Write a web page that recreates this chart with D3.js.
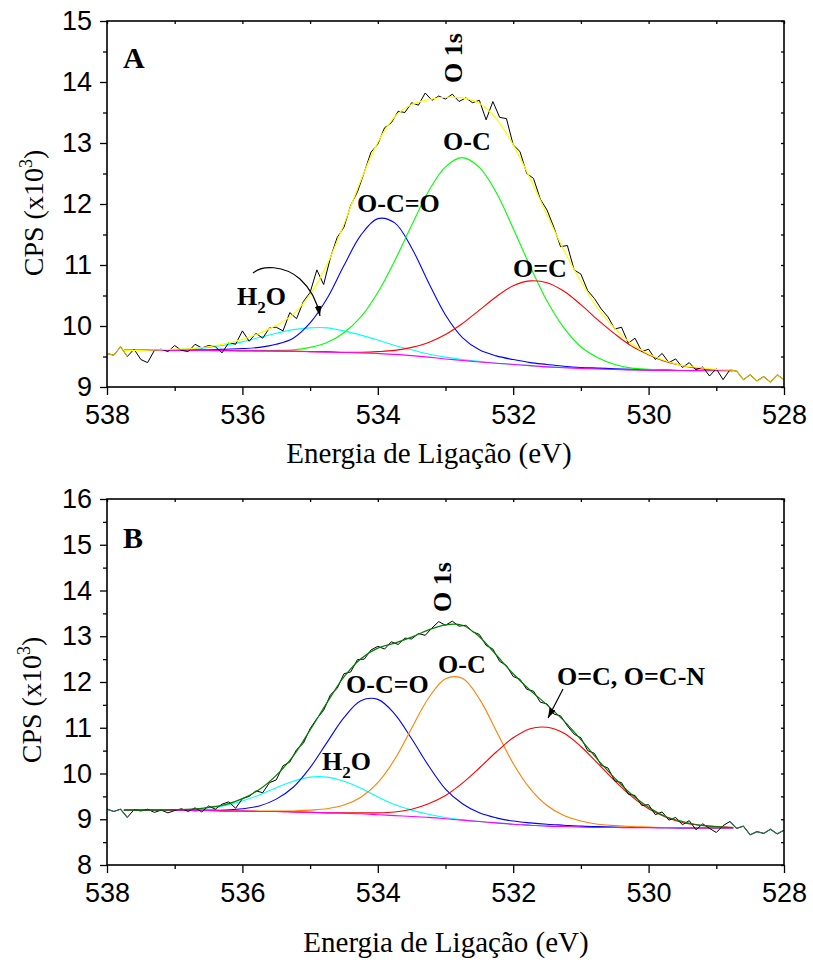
<!DOCTYPE html>
<html lang="pt">
<head>
<meta charset="utf-8">
<script src="https://d3js.org/d3.v7.min.js"></script>
<style>
body { margin: 0; background: #fff; }
</style>
</head>
<body>
<script>
var width = 813, height = 963;

// energy grid of the fitted components (eV)
var fitE = [537.75, 537.5, 537.25, 537, 536.75, 536.5, 536.25, 536, 535.75, 535.5,
  535.25, 535, 534.75, 534.5, 534.25, 534, 533.75, 533.5, 533.25, 533,
  532.75, 532.5, 532.25, 532, 531.75, 531.5, 531.25, 531, 530.75, 530.5,
  530.25, 530, 529.75, 529.5, 529.25, 529, 528.75];

// energy grid of the measured spectrum (eV)
var rawE = [538.0, 537.9, 537.8, 537.7, 537.6, 537.5, 537.4, 537.3, 537.2, 537.1,
  537.0, 536.9, 536.8, 536.7, 536.6, 536.5, 536.4, 536.3, 536.2, 536.1,
  536.0, 535.9, 535.8, 535.7, 535.6, 535.5, 535.4, 535.3, 535.2, 535.1,
  535.0, 534.9, 534.8, 534.7, 534.6, 534.5, 534.4, 534.3, 534.2, 534.1,
  534.0, 533.9, 533.8, 533.7, 533.6, 533.5, 533.4, 533.3, 533.2, 533.1,
  533.0, 532.9, 532.8, 532.7, 532.6, 532.5, 532.4, 532.3, 532.2, 532.1,
  532.0, 531.9, 531.8, 531.7, 531.6, 531.5, 531.4, 531.3, 531.2, 531.1,
  531.0, 530.9, 530.8, 530.7, 530.6, 530.5, 530.4, 530.3, 530.2, 530.1,
  530.0, 529.9, 529.8, 529.7, 529.6, 529.5, 529.4, 529.3, 529.2, 529.1,
  529.0, 528.9, 528.8, 528.7, 528.6, 528.5, 528.4, 528.3, 528.2, 528.1,
  528.0];

var xMajor = [538, 536, 534, 532, 530, 528];
var xMinor = [537, 535, 533, 531, 529];

// panel A, CPS x10^3
var aBackground = [9.60, 9.60, 9.60, 9.60, 9.60, 9.598, 9.596, 9.594, 9.592, 9.588,
  9.584, 9.578, 9.572, 9.565, 9.558, 9.548, 9.535, 9.515, 9.49, 9.46,
  9.435, 9.41, 9.39, 9.37, 9.35, 9.33, 9.315, 9.305, 9.295, 9.287,
  9.28, 9.275, 9.272, 9.27, 9.268, 9.266, 9.265];
var aOCO = [9.60, 9.60, 9.60, 9.61, 9.61, 9.61, 9.62, 9.63, 9.65, 9.70,
  9.80, 10.05, 10.45, 10.99, 11.49, 11.76, 11.69, 11.28, 10.71, 10.18,
  9.81, 9.61, 9.51, 9.45, 9.40, 9.37, 9.34, 9.32, 9.31, 9.30,
  9.29, 9.28, 9.28, 9.27, 9.27, 9.27, 9.27];
var aOC = [9.60, 9.60, 9.60, 9.60, 9.60, 9.60, 9.60, 9.60, 9.60, 9.60,
  9.61, 9.65, 9.73, 9.89, 10.15, 10.55, 11.07, 11.65, 12.21, 12.61,
  12.76, 12.60, 12.19, 11.60, 10.98, 10.41, 9.97, 9.66, 9.48, 9.37,
  9.31, 9.29, 9.28, 9.27, 9.27, 9.27, 9.27];
var aODC = [9.60, 9.60, 9.60, 9.60, 9.60, 9.60, 9.60, 9.59, 9.59, 9.59,
  9.59, 9.58, 9.58, 9.57, 9.57, 9.58, 9.60, 9.65, 9.73, 9.86,
  10.04, 10.26, 10.48, 10.66, 10.74, 10.71, 10.57, 10.35, 10.10, 9.87,
  9.67, 9.53, 9.42, 9.35, 9.30, 9.28, 9.27];
var aH2O = [9.60, 9.60, 9.61, 9.61, 9.63, 9.65, 9.69, 9.74, 9.81, 9.88,
  9.94, 9.97, 9.97, 9.92, 9.85, 9.77, 9.68, 9.61, 9.54, 9.49,
  9.45, 9.42, 9.39, 9.37, 9.35, 9.33, 9.32, 9.31, 9.30, 9.29,
  9.28, 9.28, 9.27, 9.27, 9.27, 9.27, 9.27];
var aFit = [9.60, 9.60, 9.61, 9.62, 9.63, 9.66, 9.71, 9.78, 9.88, 10.01,
  10.19, 10.52, 11.01, 11.67, 12.39, 13.01, 13.43, 13.63, 13.71, 13.75,
  13.74, 13.65, 13.40, 12.97, 12.42, 11.82, 11.24, 10.73, 10.29, 9.96,
  9.71, 9.54, 9.43, 9.35, 9.32, 9.29, 9.28];
var aRaw = [9.55, 9.52, 9.66, 9.50, 9.62, 9.45, 9.40, 9.60, 9.62, 9.58,
  9.68, 9.60, 9.58, 9.70, 9.64, 9.68, 9.66, 9.56, 9.73, 9.70,
  9.92, 9.75, 9.88, 9.80, 9.97, 9.98, 9.92, 10.22, 10.12, 10.40,
  10.55, 10.92, 10.68, 11.12, 11.45, 11.62, 11.98, 12.20, 12.52, 12.85,
  12.98, 13.25, 13.33, 13.52, 13.50, 13.66, 13.62, 13.82, 13.70, 13.77,
  13.72, 13.80, 13.68, 13.74, 13.66, 13.70, 13.38, 13.68, 13.42, 13.40,
  12.97, 12.86, 12.50, 12.42, 12.08, 11.90, 11.62, 11.30, 11.32, 10.92,
  10.85, 10.58, 10.45, 10.28, 10.15, 9.95, 9.98, 9.72, 9.80, 9.58,
  9.62, 9.45, 9.55, 9.40, 9.46, 9.32, 9.40, 9.28, 9.33, 9.18,
  9.30, 9.12, 9.28, 9.26, 9.12, 9.20, 9.10, 9.17, 9.08, 9.20,
  9.12];
var aYMajor = [9, 10, 11, 12, 13, 14, 15];
var aYMinor = [9.5, 10.5, 11.5, 12.5, 13.5, 14.5];

// panel B, CPS x10^3
var bBackground = [9.20, 9.20, 9.20, 9.20, 9.19, 9.19, 9.18, 9.18, 9.17, 9.17,
  9.16, 9.15, 9.14, 9.13, 9.12, 9.10, 9.08, 9.06, 9.04, 9.01,
  8.98, 8.95, 8.92, 8.89, 8.87, 8.85, 8.84, 8.83, 8.82, 8.82,
  8.815, 8.815, 8.81, 8.81, 8.81, 8.81, 8.81];
var bOCO = [9.20, 9.20, 9.20, 9.20, 9.20, 9.20, 9.20, 9.23, 9.29, 9.44,
  9.70, 10.13, 10.68, 11.22, 11.59, 11.62, 11.30, 10.76, 10.17, 9.66,
  9.34, 9.14, 9.03, 8.96, 8.92, 8.89, 8.87, 8.85, 8.84, 8.83,
  8.82, 8.82, 8.82, 8.81, 8.81, 8.81, 8.81];
var bOC = [9.20, 9.20, 9.20, 9.20, 9.19, 9.19, 9.18, 9.18, 9.18, 9.18,
  9.18, 9.20, 9.23, 9.31, 9.48, 9.80, 10.31, 10.99, 11.65, 12.07,
  12.08, 11.63, 10.93, 10.22, 9.67, 9.30, 9.08, 8.96, 8.89, 8.86,
  8.84, 8.83, 8.82, 8.82, 8.81, 8.81, 8.81];
var bODC = [9.20, 9.20, 9.20, 9.20, 9.19, 9.19, 9.18, 9.18, 9.17, 9.17,
  9.16, 9.15, 9.14, 9.14, 9.14, 9.14, 9.16, 9.22, 9.34, 9.52,
  9.79, 10.12, 10.47, 10.78, 10.98, 11.01, 10.88, 10.59, 10.22, 9.84,
  9.50, 9.23, 9.05, 8.93, 8.87, 8.84, 8.82];
var bH2O = [9.20, 9.20, 9.20, 9.21, 9.21, 9.25, 9.30, 9.40, 9.53, 9.69,
  9.83, 9.92, 9.92, 9.83, 9.68, 9.49, 9.32, 9.20, 9.11, 9.04,
  8.99, 8.95, 8.92, 8.89, 8.87, 8.85, 8.84, 8.83, 8.82, 8.82,
  8.82, 8.82, 8.81, 8.81, 8.81, 8.81, 8.81];
var bFit = [9.20, 9.20, 9.20, 9.21, 9.22, 9.26, 9.32, 9.45, 9.65, 9.96,
  10.38, 10.95, 11.55, 12.11, 12.51, 12.74, 12.85, 12.98, 13.14, 13.25,
  13.24, 12.99, 12.59, 12.18, 11.82, 11.50, 11.15, 10.74, 10.30, 9.90,
  9.54, 9.26, 9.06, 8.95, 8.87, 8.84, 8.82];
var bRaw = [9.22, 9.17, 9.22, 9.04, 9.21, 9.18, 9.22, 9.15, 9.20, 9.14,
  9.19, 9.23, 9.17, 9.25, 9.16, 9.29, 9.22, 9.33, 9.38, 9.24,
  9.45, 9.50, 9.62, 9.58, 9.80, 9.86, 10.17, 10.25, 10.52, 10.66,
  10.98, 11.20, 11.38, 11.72, 11.86, 12.18, 12.22, 12.49, 12.50, 12.70,
  12.78, 12.72, 12.88, 12.82, 12.96, 12.94, 13.06, 13.02, 13.18, 13.32,
  13.24, 13.33, 13.22, 13.24, 13.10, 13.04, 12.80, 12.72, 12.45, 12.36,
  12.12, 12.06, 11.84, 11.80, 11.56, 11.52, 11.30, 11.26, 11.04, 10.86,
  10.78, 10.50, 10.44, 10.18, 10.12, 9.84, 9.80, 9.55, 9.52, 9.30,
  9.32, 9.10, 9.16, 8.98, 9.04, 8.88, 8.97, 8.77, 8.90, 8.80,
  8.71, 8.86, 8.95, 8.80, 8.85, 8.66, 8.73, 8.69, 8.78, 8.68,
  8.76];
var bYMajor = [8, 9, 10, 11, 12, 13, 14, 15, 16];
var bYMinor = [8.5, 9.5, 10.5, 11.5, 12.5, 13.5, 14.5, 15.5];

var sans = '"Liberation Sans", Arial, sans-serif';
var serif = '"Liberation Serif", "Times New Roman", serif';

var svg = d3.select('body').append('svg')
  .attr('width', width).attr('height', height)
  .style('background', '#fff');

svg.append('defs').append('marker')
  .attr('id', 'head')
  .attr('viewBox', '0 0 10 10')
  .attr('refX', 10).attr('refY', 5)
  .attr('markerWidth', 10).attr('markerHeight', 10)
  .attr('markerUnits', 'userSpaceOnUse')
  .attr('orient', 'auto')
  .append('path').attr('d', 'M0,1.6 L10,5 L0,8.4 Z').attr('fill', '#000');

var left = 107, right = 784;

function styleAxis(g) {
  g.select('.domain').remove();
  g.selectAll('line').attr('stroke', '#000').attr('stroke-width', 1.3);
  g.selectAll('text').attr('font-family', sans).attr('font-size', 27).attr('fill', '#000');
}

function drawPanel(p) {
  var x = d3.scaleLinear().domain([538, 528]).range([left, right]);
  var y = d3.scaleLinear().domain(p.yDomain).range([p.bottom, p.top]);
  var g = svg.append('g');

  // ticks
  g.append('g').attr('transform', 'translate(0,' + p.bottom + ')')
    .call(d3.axisBottom(x).tickValues(xMajor).tickSize(8).tickPadding(10).tickFormat(d3.format('d')))
    .call(styleAxis);
  g.append('g').attr('transform', 'translate(0,' + p.bottom + ')')
    .call(d3.axisBottom(x).tickValues(xMinor).tickSize(4).tickFormat(''))
    .call(styleAxis);
  g.append('g').attr('transform', 'translate(0,' + p.top + ')')
    .call(d3.axisTop(x).tickValues(xMajor.concat(xMinor)).tickSize(-3).tickFormat(''))
    .call(styleAxis);
  g.append('g').attr('transform', 'translate(' + left + ',0)')
    .call(d3.axisLeft(y).tickValues(p.yMajor).tickSize(7).tickPadding(8).tickFormat(d3.format('d')))
    .call(styleAxis);
  g.append('g').attr('transform', 'translate(' + left + ',0)')
    .call(d3.axisLeft(y).tickValues(p.yMinor).tickSize(4).tickFormat(''))
    .call(styleAxis);
  g.append('g').attr('transform', 'translate(' + right + ',0)')
    .call(d3.axisRight(y).tickValues(p.yMajor.concat(p.yMinor)).tickSize(-3).tickFormat(''))
    .call(styleAxis);

  var smooth = d3.line()
    .x(function(d) { return x(d[0]); })
    .y(function(d) { return y(d[1]); })
    .curve(d3.curveCatmullRom.alpha(0.5));
  var jagged = d3.line()
    .x(function(d) { return x(d[0]); })
    .y(function(d) { return y(d[1]); });

  function pairs(xs, ys) { return xs.map(function(e, i) { return [e, ys[i]]; }); }

  p.components.forEach(function(c) {
    g.append('path').attr('d', smooth(pairs(fitE, c.values)))
      .attr('fill', 'none').attr('stroke', c.color).attr('stroke-width', 1.1);
  });
  g.append('path').attr('d', smooth(pairs(fitE, p.background)))
    .attr('fill', 'none').attr('stroke', '#ff00ff').attr('stroke-width', 1.1);

  var raw = pairs(rawE, p.raw);
  g.append('path').attr('d', jagged(raw))
    .attr('fill', 'none').attr('stroke', '#000').attr('stroke-width', 1);
  g.append('path').attr('d', smooth(pairs(fitE, p.fit)))
    .attr('fill', 'none').attr('stroke', p.fitColor).attr('stroke-width', 1.2);
  [raw.filter(function(d) { return d[0] >= 537.7; }),
   raw.filter(function(d) { return d[0] <= 528.8; })].forEach(function(seg) {
    g.append('path').attr('d', jagged(seg))
      .attr('fill', 'none').attr('stroke', p.endColor).attr('stroke-width', 1.2);
  });

  // frame
  g.append('rect').attr('x', left).attr('y', p.top)
    .attr('width', right - left).attr('height', p.bottom - p.top)
    .attr('fill', 'none').attr('stroke', '#000').attr('stroke-width', 1.6);

  // titles
  g.append('text').attr('x', p.titleX).attr('y', p.titleY)
    .attr('text-anchor', 'middle').attr('font-family', serif).attr('font-size', 29)
    .text('Energia de Ligação (eV)');
  var yt = g.append('text')
    .attr('transform', 'translate(' + p.yTitle[0] + ',' + p.yTitle[1] + ') rotate(-90)')
    .attr('text-anchor', 'middle').attr('font-family', serif).attr('font-size', 28);
  yt.append('tspan').text('CPS (x10');
  yt.append('tspan').attr('font-size', 18).attr('dy', -11).text('3');
  yt.append('tspan').attr('dy', 11).text(')');

  g.append('text').attr('x', 123).attr('y', p.letterY)
    .attr('font-family', serif).attr('font-weight', 'bold').attr('font-size', 30)
    .text(p.letter);

  p.labels.forEach(function(l) {
    var t = g.append('text').attr('font-family', serif).attr('font-weight', 'bold').attr('font-size', 26);
    if (l.rotate) {
      t.attr('transform', 'translate(' + l.x + ',' + l.y + ') rotate(-90)').attr('text-anchor', 'middle');
    } else {
      t.attr('x', l.x).attr('y', l.y);
    }
    if (l.text === 'H2O') {
      t.append('tspan').text('H');
      t.append('tspan').attr('font-size', 17).attr('dy', 8).text('2');
      t.append('tspan').attr('dy', -8).text('O');
    } else {
      t.text(l.text);
    }
  });

  g.append('path').attr('d', p.arrow)
    .attr('fill', 'none').attr('stroke', '#000').attr('stroke-width', 1.2)
    .attr('marker-end', 'url(#head)');
}

drawPanel({
  top: 21, bottom: 387, yDomain: [9, 15], yMajor: aYMajor, yMinor: aYMinor,
  components: [
    {values: aH2O, color: '#00ffff'},
    {values: aOCO, color: '#0000ff'},
    {values: aOC, color: '#00ff00'},
    {values: aODC, color: '#ff0000'}
  ],
  background: aBackground, fit: aFit, fitColor: '#ffff00', raw: aRaw, endColor: '#d9b400',
  titleX: 429, titleY: 463, yTitle: [43, 213], letter: 'A', letterY: 68,
  labels: [
    {text: 'O 1s', x: 462, y: 58, rotate: true},
    {text: 'O-C', x: 443, y: 150},
    {text: 'O-C=O', x: 357, y: 212},
    {text: 'O=C', x: 513, y: 277},
    {text: 'H2O', x: 237, y: 305}
  ],
  arrow: 'M253,273 C262,265 284,265 300,279 C311,289 317,301 320,316'
});

drawPanel({
  top: 499, bottom: 865, yDomain: [8, 16], yMajor: bYMajor, yMinor: bYMinor,
  components: [
    {values: bH2O, color: '#00ffff'},
    {values: bOCO, color: '#0000ff'},
    {values: bOC, color: '#ff8000'},
    {values: bODC, color: '#ff0000'}
  ],
  background: bBackground, fit: bFit, fitColor: '#008000', raw: bRaw, endColor: '#2e6e4e',
  titleX: 446, titleY: 952, yTitle: [41, 700], letter: 'B', letterY: 548,
  labels: [
    {text: 'O 1s', x: 451, y: 587, rotate: true},
    {text: 'O-C', x: 438, y: 673},
    {text: 'O=C, O=C-N', x: 557, y: 685},
    {text: 'O-C=O', x: 346, y: 693},
    {text: 'H2O', x: 322, y: 770}
  ],
  arrow: 'M563,689 L548,718'
});
</script>
</body>
</html>
